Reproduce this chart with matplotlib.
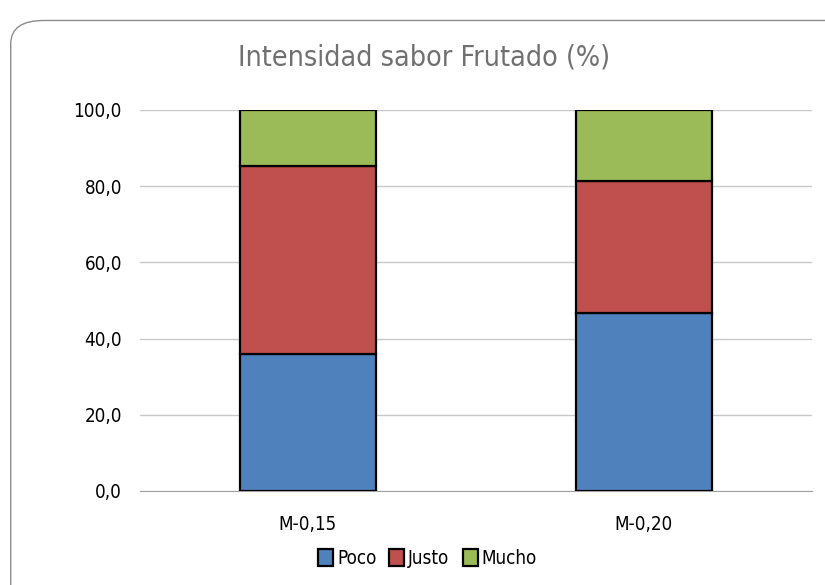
import numpy as np
from matplotlib import pyplot as plt
from matplotlib.patches import FancyBboxPatch

# porcentajes por muestra
muestras = ['M-0,15', 'M-0,20']
poco = [36.0, 46.6]
justo = [49.4, 34.7]
mucho = [14.6, 18.7]

colores = ['#4f81bd', '#c0504d', '#9bbb59']

plt.rcParams['font.family'] = ['DejaVu Sans']
plt.rcParams['font.stretch'] = 'condensed'

fig = plt.figure(figsize=(8.25, 5.85), dpi=100)

# marco redondeado del gráfico
marco = FancyBboxPatch((0.013, -0.05), 1.05, 1.015,
                       boxstyle="round,pad=0,rounding_size=0.04",
                       transform=fig.transFigure, facecolor='white',
                       edgecolor='#8c8c8c', linewidth=1.0, zorder=-1)
fig.patches.append(marco)

ax = fig.add_axes([0.1697, 0.1607, 0.8143, 0.6513])
ax.set_facecolor('none')
ax.set_zorder(1)

x = np.arange(len(muestras))
ancho = 0.405
base = np.zeros(len(muestras))
for valores, color, nombre in zip([poco, justo, mucho], colores, ['Poco', 'Justo', 'Mucho']):
    ax.bar(x, valores, ancho, bottom=base, color=color, edgecolor='black',
           linewidth=1.6, label=nombre, zorder=3)
    base += np.array(valores)

ax.set_xlim(-0.5, 1.5)
ax.set_ylim(0, 100)
ax.set_yticks(np.arange(0, 101, 20))
ax.set_yticklabels([f"{v:.1f}".replace('.', ',') for v in np.arange(0, 101, 20)], fontsize=13.5)
ax.set_xticks(x)
ax.set_xticklabels(muestras, fontsize=13.5)
ax.tick_params(length=0, pad=13)
ax.tick_params(axis='x', pad=17)
ax.yaxis.grid(True, color='#c8c8c8', linewidth=1.0, zorder=0)
for lado in ['top', 'right', 'left']:
    ax.spines[lado].set_visible(False)
ax.spines['bottom'].set_color('#a0a0a0')

fig.text(0.514, 0.902, 'Intensidad sabor Frutado (%)', ha='center', va='center',
         fontsize=20.5, color='#707070')

fig.legend(loc='center', bbox_to_anchor=(0.518, 0.046), ncol=3, frameon=False,
           fontsize=13.5, handlelength=0.8, handleheight=1.0, handletextpad=0.2,
           columnspacing=0.7)

plt.savefig('out.png', dpi=100)
